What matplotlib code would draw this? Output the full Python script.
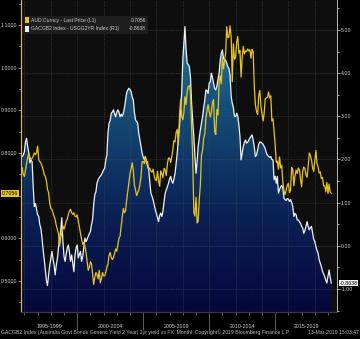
import matplotlib.pyplot as plt
import matplotlib.dates as mdates
from matplotlib.colors import LinearSegmentedColormap
from matplotlib.patches import Rectangle
from matplotlib.ticker import MultipleLocator, FixedLocator
from matplotlib.transforms import blended_transform_factory
import numpy as np
import pandas as pd

plt.rcParams['font.family'] = ['Liberation Sans', 'DejaVu Sans']

# monthly, Oct-1995 .. Mar-2019
aud = [
    0.765, 0.750, 0.745,
    0.760, 0.775, 0.790, 0.800, 0.790, 0.784, 0.788, 0.792, 0.800, 0.796, 0.800, 0.816,
    0.784, 0.780, 0.777, 0.770, 0.761, 0.750, 0.745, 0.735, 0.715, 0.707, 0.683, 0.670,
    0.668, 0.660, 0.652, 0.644, 0.630, 0.621, 0.610, 0.582, 0.600, 0.613, 0.629, 0.621,
    0.630, 0.640, 0.645, 0.656, 0.664, 0.668, 0.660, 0.656, 0.660, 0.652, 0.650, 0.655,
    0.640, 0.625, 0.612, 0.598, 0.586, 0.590, 0.582, 0.567, 0.547, 0.525, 0.532, 0.545,
    0.540, 0.516, 0.492, 0.508, 0.520, 0.515, 0.505, 0.525, 0.496, 0.505, 0.520, 0.512,
    0.512, 0.520, 0.532, 0.540, 0.560, 0.567, 0.555, 0.550, 0.555, 0.565, 0.575, 0.570,
    0.585, 0.600, 0.605, 0.628, 0.650, 0.670, 0.660, 0.665, 0.690, 0.710, 0.730, 0.752,
    0.763, 0.777, 0.760, 0.725, 0.714, 0.700, 0.706, 0.714, 0.725, 0.745, 0.780, 0.780,
    0.775, 0.792, 0.775, 0.780, 0.761, 0.765, 0.757, 0.755, 0.762, 0.747, 0.737, 0.735,
    0.757, 0.735, 0.722, 0.758, 0.752, 0.742, 0.764, 0.760, 0.747, 0.775, 0.788, 0.788,
    0.778, 0.790, 0.808, 0.829, 0.826, 0.849, 0.855, 0.820, 0.886, 0.925, 0.886, 0.878,
    0.895, 0.932, 0.913, 0.945, 0.956, 0.958, 0.942, 0.860, 0.790, 0.662, 0.652, 0.696,
    0.636, 0.640, 0.691, 0.725, 0.795, 0.806, 0.835, 0.844, 0.881, 0.899, 0.913, 0.897,
    0.884, 0.896, 0.918, 0.925, 0.850, 0.843, 0.902, 0.889, 0.966, 0.981, 0.962, 1.023,
    0.997, 1.016, 1.034, 1.096, 1.070, 1.072, 1.098, 1.072, 0.967, 1.056, 1.020, 1.023,
    1.061, 1.073, 1.034, 1.040, 0.978, 1.023, 1.050, 1.032, 1.039, 1.038, 1.044, 1.039,
    1.042, 1.022, 1.043, 1.038, 0.957, 0.914, 0.898, 0.890, 0.933, 0.947, 0.911, 0.892,
    0.875, 0.893, 0.927, 0.929, 0.930, 0.943, 0.929, 0.934, 0.875, 0.880, 0.851, 0.817,
    0.778, 0.781, 0.762, 0.791, 0.765, 0.771, 0.731, 0.711, 0.702, 0.713, 0.724, 0.729,
    0.707, 0.713, 0.766, 0.761, 0.723, 0.746, 0.760, 0.752, 0.765, 0.761, 0.739, 0.721,
    0.758, 0.767, 0.764, 0.748, 0.743, 0.769, 0.800, 0.794, 0.784, 0.765, 0.757, 0.781,
    0.806, 0.776, 0.768, 0.753, 0.756, 0.740, 0.743, 0.723, 0.723, 0.709, 0.731, 0.705,
    0.727, 0.709, 0.7056,
]

# AU 2y minus US 2y
spread = [
    2.07, 2.10, 2.18,
    2.41, 2.49, 2.30, 2.15, 1.92, 1.99, 1.95, 1.37, 0.91, 0.98, 0.85, 0.72,
    0.68, 0.50, 0.40, 0.20, -0.09, -0.30, -0.55, -0.80, -0.92, -0.67, -0.45, -0.30,
    -0.13, -0.30, -0.44, -0.67, -0.45, -0.30, -0.05, 0.15, 0.35, 0.65, 0.10, -0.25,
    -0.36, -0.20, -0.05, 0.02, -0.15, -0.36, -0.21, -0.40, -0.60, -0.21, -0.05, 0.02,
    -0.28, -0.20, -0.13, -0.36, -0.25, -0.05, 0.18, 0.10, 0.15, 0.22, 0.28, 0.33,
    0.50, 0.60, 0.95, 1.18, 1.25, 1.45, 1.53, 1.58, 1.61, 1.65, 1.70, 1.76,
    1.80, 1.99, 2.10, 2.61, 2.84, 2.90, 3.07, 3.10, 3.15, 3.05, 2.99, 3.10,
    3.15, 3.10, 2.99, 3.05, 3.00, 3.07, 3.20, 3.38, 3.55, 3.61, 3.65, 3.62,
    3.57, 3.45, 3.38, 3.10, 2.92, 2.88, 2.84, 2.60, 2.45, 2.30, 2.15, 2.05,
    2.00, 2.07, 1.95, 1.85, 1.76, 1.50, 1.22, 1.15, 1.07, 0.95, 0.83, 0.75,
    0.65, 0.56, 0.70, 0.76, 0.68, 0.80, 1.03, 1.22, 1.30, 1.37, 1.45, 1.55,
    1.61, 1.50, 1.45, 1.55, 1.68, 1.90, 2.15, 2.50, 2.76, 3.20, 3.53, 4.31,
    4.70, 5.08, 4.54, 4.23, 4.20, 4.15, 3.90, 3.30, 2.90, 2.53, 2.10, 1.68,
    1.95, 2.30, 2.50, 2.69, 2.85, 2.99, 3.20, 3.38, 3.61, 3.60, 3.53, 3.77,
    3.80, 4.00, 3.90, 3.77, 3.65, 3.61, 3.70, 3.85, 4.00, 4.30, 4.46, 4.54,
    4.34, 4.31, 4.30, 4.23, 4.15, 4.11, 3.95, 3.46, 3.30, 3.20, 3.00, 2.99,
    3.07, 3.00, 2.80, 2.53, 1.99, 2.15, 2.30, 2.40, 2.45, 2.38, 2.40, 2.45,
    2.50, 2.53, 2.57, 2.45, 2.30, 2.07, 2.10, 2.22, 2.35, 2.41, 2.40, 2.38,
    2.35, 2.30, 2.25, 2.15, 2.10, 2.07, 2.05, 2.07, 2.00, 1.99, 1.53, 1.61,
    1.45, 1.61, 1.22, 1.30, 1.37, 1.40, 1.33, 1.10, 1.07, 1.05, 1.10, 1.08,
    1.03, 1.07, 1.00, 0.91, 0.68, 0.75, 0.72, 0.60, 0.60, 0.56, 0.52, 0.45,
    0.41, 0.29, 0.35, 0.45, 0.56, 0.45, 0.37, 0.42, 0.45, 0.29, 0.15, 0.10,
    -0.02, -0.10, -0.17, -0.32, -0.40, -0.48, -0.59, -0.65, -0.71, -0.80, -0.86, -0.70,
    -0.56, -0.72, -0.8638,
]

aud_ticks = [0.5, 0.6, 0.7, 0.8, 0.9, 1.0, 1.1]
aud_ticklabels = ['0.5000', '0.6000', '', '0.8000', '0.9000', '1.0000', '1.1000']  # 0.7000 sits under the last-price tag
spread_ticks = [-1, 0, 1, 2, 3, 4, 5]
period_labels = ['1995-1999', '2000-2004', '2005-2009', '2010-2014', '2015-2019']
period_bounds = ['1995-09-28', '2000-01-01', '2005-01-01', '2010-01-01', '2015-01-01', '2019-09-06']

legend_rows = [('AUD Curncy - Last Price (L1)', '0.7056', '#e8c41c'),
               ('GACGB2 Index - USGG2YR Index (R1)', '-0.8638', '#f0f0f0')]
footer = 'GACGB2 Index (Australia Govt Bonds Generic Yield 2 Year) 2yr yield vs FX  Monthl  Copyright\u00a9 2019 Bloomberg Finance L.P.'
stamp = '13-Mar-2019 15:03:47'

YELLOW = '#e8c41c'
TXT = '#cfcfcf'
FS = 3.8

dates = pd.date_range('1995-10-31', periods=len(aud), freq='ME')
x = mdates.date2num(dates)
xlo = mdates.date2num(pd.Timestamp(period_bounds[0]))
xhi = mdates.date2num(pd.Timestamp(period_bounds[-1]))
slo, shi = -1.533, 5.695

fig = plt.figure(figsize=(3.6, 3.39), dpi=100, facecolor='black')
ax = fig.add_axes([21 / 360, 27 / 339, 316 / 360, 312 / 339])
ax.set_facecolor('#0e0e0e')
ax2 = ax.twinx()

# gradient area under the spread line
poly = ax.fill_between(x, spread, slo, facecolor='none', edgecolor='none')
grad = np.linspace(0, 1, 256).reshape(-1, 1)
cmap = LinearSegmentedColormap.from_list('bbg', ['#06073a', '#0b2358', '#155079', '#2b8ca8'])
im = ax.imshow(grad, extent=[x[0], x[-1], slo, shi], origin='lower', aspect='auto',
               cmap=cmap, zorder=1)
im.set_clip_path(poly.get_paths()[0], transform=ax.transData)
ax.plot(x, spread, color='#eef2f5', lw=0.9, zorder=3)
ax2.plot(x, aud, color=YELLOW, lw=0.9, zorder=3)

ax.set_xlim(xlo, xhi)
ax.set_ylim(slo, shi)
ax2.set_ylim(0.4273, 1.1586)

# grid
ax.set_axisbelow(False)
ax.grid(axis='y', color='#4a4a4a', linestyle=(0, (1, 1.5)), linewidth=0.5)
for yr in range(1996, 2020, 2):
    ax.axvline(pd.Timestamp(f'{yr}-01-01'), color='#4a4a4a', linestyle=(0, (1, 1.5)),
               linewidth=0.5, zorder=2.5)

# right axis (spread)
ax.yaxis.tick_right()
ax.set_yticks(spread_ticks)
ax.set_yticklabels([f'{v:.2f}' for v in spread_ticks])
ax.yaxis.set_minor_locator(MultipleLocator(0.5))
ax.tick_params(axis='y', which='both', colors='#d8d8d8', labelcolor=TXT, labelsize=FS,
               width=0.5, pad=0.8)
ax.tick_params(axis='y', which='major', length=2)
ax.tick_params(axis='y', which='minor', length=1.2)

# left axis (AUD)
ax2.yaxis.tick_left()
ax2.set_yticks(aud_ticks)
ax2.set_yticklabels(aud_ticklabels)
ax2.yaxis.set_minor_locator(MultipleLocator(0.05))
ax2.tick_params(axis='y', which='both', colors=YELLOW, labelcolor=TXT, labelsize=FS,
                width=0.5, pad=0.8)
ax2.tick_params(axis='y', which='major', length=2)
ax2.tick_params(axis='y', which='minor', length=1.2)

# x axis: 5 year separators, yearly minor ticks, period labels
ax.xaxis.set_major_locator(FixedLocator(mdates.date2num(pd.to_datetime(period_bounds[1:-1]))))
ax.xaxis.set_minor_locator(mdates.YearLocator(1))
ax.set_xticklabels([])
ax.tick_params(axis='x', which='major', length=13, width=0.6, color='#6a6a6a')
ax.tick_params(axis='x', which='minor', length=2, width=0.5, color='#8a8a8a')
bt = blended_transform_factory(ax.transData, ax.transAxes)
bnum = mdates.date2num(pd.to_datetime(period_bounds))
for lab, a, b in zip(period_labels, bnum[:-1], bnum[1:]):
    ax.text((a + b) / 2, -0.045, lab, transform=bt, ha='center', va='center',
            color=TXT, fontsize=FS)

for a in (ax, ax2):
    a.spines['top'].set_visible(False)
    a.spines['bottom'].set_color('#3a3a3a')
    a.spines['left'].set_visible(False)
    a.spines['right'].set_visible(False)
ax2.spines['left'].set_visible(True)
ax2.spines['left'].set_color(YELLOW)
ax2.spines['left'].set_linewidth(0.8)
ax.spines['right'].set_visible(True)
ax.spines['right'].set_color('#d8d8d8')
ax.spines['right'].set_linewidth(0.6)

# last value tags
tl = blended_transform_factory(ax2.transAxes, ax2.transData)
ax2.text(-0.008, aud[-1], f'{aud[-1]:.4f}', transform=tl, ha='right', va='center',
         fontsize=FS, color='black', clip_on=False, zorder=20,
         bbox=dict(boxstyle='square,pad=0.15', fc=YELLOW, ec='none'))
tr = blended_transform_factory(ax2.transAxes, ax.transData)
ax2.text(1.008, spread[-1], f'{spread[-1]:.4f}', transform=tr, ha='left', va='center',
         fontsize=FS, color='black', clip_on=False, zorder=20,
         bbox=dict(boxstyle='square,pad=0.15', fc='#f4f4f4', ec='none'))

# legend
ax2.add_patch(Rectangle((0.004, 0.891), 0.398, 0.058, transform=ax2.transAxes,
                        fc='#1e1e1e', ec='none', zorder=15))
for i, (name, val, col) in enumerate(legend_rows):
    yy = 0.935 - i * 0.027
    ax2.add_patch(Rectangle((0.013, yy - 0.009), 0.013, 0.018, transform=ax2.transAxes,
                            fc=col, ec='none', zorder=16))
    ax2.text(0.032, yy, name, transform=ax2.transAxes, ha='left', va='center',
             fontsize=3.6, color=TXT, zorder=16)
    ax2.text(0.396, yy, val, transform=ax2.transAxes, ha='right', va='center',
             fontsize=3.6, color=TXT, zorder=16)

fig.text(0.003, 0.012, footer, ha='left', va='bottom', fontsize=3.7, color='#bdbdbd')
fig.text(0.997, 0.012, stamp, ha='right', va='bottom', fontsize=3.7, color='#bdbdbd')

fig.savefig('out.png', dpi=100, facecolor='black')
